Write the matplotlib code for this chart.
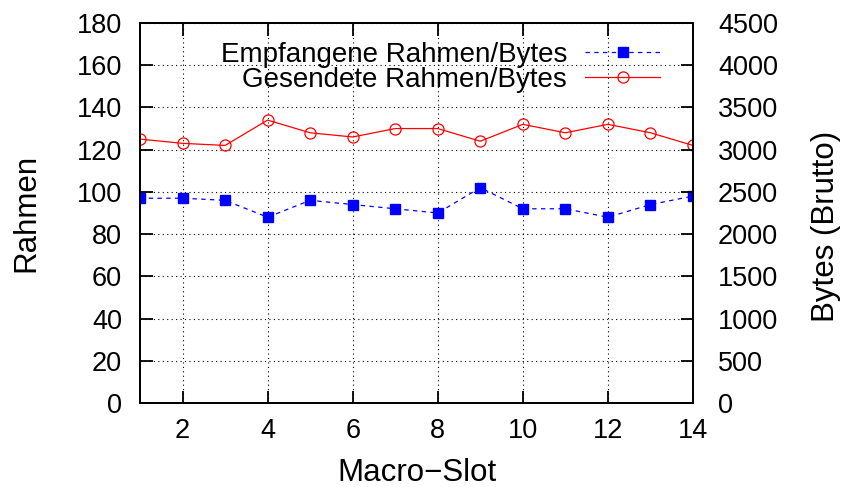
import matplotlib
matplotlib.use("Agg")
import matplotlib.pyplot as plt

plt.rcParams['font.family'] = ['Liberation Sans', 'DejaVu Sans']

# ---- data ----
macro_slots = [1, 2, 3, 4, 5, 6, 7, 8, 9, 10, 11, 12, 13, 14]
received_frames = [97, 97, 96, 88, 96, 94, 92, 90, 102, 92, 92, 88, 94, 98]
sent_frames = [125, 123, 122, 134, 128, 126, 130, 130, 124, 132, 128, 132, 128, 122]
label_received = "Empfangene Rahmen/Bytes"
label_sent = "Gesendete Rahmen/Bytes"
xlabel = "Macro\u2212Slot"
ylabel_left = "Rahmen"
ylabel_right = "Bytes (Brutto)"
left_ticks = list(range(0, 181, 20))
right_ticks = list(range(0, 4501, 500))
x_ticks = [2, 4, 6, 8, 10, 12, 14]

W, H = 842, 487
FS = 19.5
FS_LAB = 22.5
FS_LEG = 20
fig = plt.figure(figsize=(W / 100, H / 100), dpi=100)
L, R, T, B = 140, 693, 23, 403
ax = fig.add_axes([L / W, 1 - B / H, (R - L) / W, (B - T) / H])

ax.plot(macro_slots, received_frames, color='#0000ff', linestyle=(0, (3.5, 3.5)),
        linewidth=0.9, marker='s', markersize=6.5, markerfacecolor='#0000ff',
        markeredgecolor='#0000ff', label=label_received, zorder=3)
ax.plot(macro_slots, sent_frames, color='#ff0000', linestyle='-', linewidth=0.9,
        marker='o', markersize=8, markerfacecolor='none', markeredgecolor='#ff0000',
        markeredgewidth=0.9, label=label_sent, zorder=3)

ax.set_xlim(1, 14)
ax.set_ylim(0, 180)
ax.set_xticks(x_ticks)
ax.set_yticks(left_ticks)
ax.grid(True, color='black', linestyle=(0, (1, 3)), linewidth=0.8)
ax.set_axisbelow(True)

for s in ax.spines.values():
    s.set_linewidth(1.3)

ax.tick_params(axis='x', direction='in', length=9, width=1.3, top=True,
               labelsize=FS, pad=11)
ax.tick_params(axis='y', direction='in', length=9, width=1.3, right=False,
               labelsize=FS, pad=13)

ax2 = ax.twinx()
ax2.set_ylim(0, 4500)
ax2.set_yticks(right_ticks)
ax2.tick_params(axis='y', direction='in', length=9, width=1.3,
                labelsize=FS, pad=18)
for s in ax2.spines.values():
    s.set_linewidth(1.3)

fig.text(417 / W, 1 - 481 / H, xlabel, ha='center', va='baseline', fontsize=FS_LAB)
fig.text(26 / W, 1 - 213 / H, ylabel_left, ha='center', va='center',
         rotation=90, fontsize=FS_LAB)
fig.text(826 / W, 1 - 226 / H, ylabel_right, ha='center', va='center',
         rotation=90, fontsize=FS_LAB)

leg = ax.legend(loc='upper right', bbox_to_anchor=(660 / W, 1 - 42 / H),
                bbox_transform=fig.transFigure, frameon=False, markerfirst=False,
                fontsize=FS_LEG, borderpad=0, borderaxespad=0, handlelength=2.7,
                handletextpad=0.65, labelspacing=-0.05)
leg.set_zorder(5)

fig.savefig("out.png", dpi=100)
